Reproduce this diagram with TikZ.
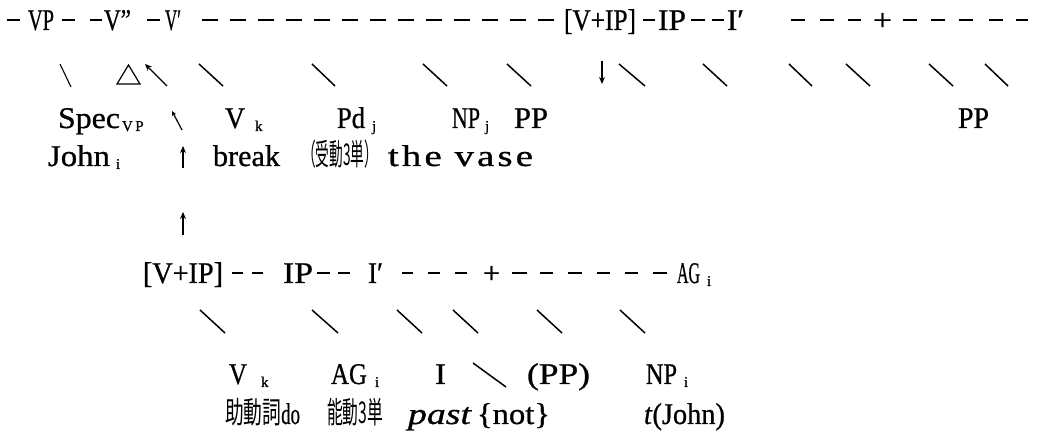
\documentclass[tikz,border=0pt]{standalone}
\usepackage{graphicx}
\usepackage{fontspec}
\setmainfont{Liberation Serif}[FakeBold=0.8]
\newfontfamily\jafont{Noto Sans CJK JP}
\usetikzlibrary{arrows.meta}
% squeeze or stretch a word to a given width, height unchanged
\newcommand\fitto[2]{\resizebox{#1pt}{\height}{#2}}
% small lowered index
\newcommand\idx[1]{\raisebox{-3pt}{\fontsize{15}{15}\selectfont #1}}
\begin{document}
\begin{tikzpicture}[x=1pt,y=-1pt,
  lbl/.style={anchor=base west,inner sep=0pt,outer sep=0pt,font=\fontsize{30}{32}\selectfont},
  dashln/.style={line width=1.3pt},
  slant/.style={line width=1.5pt},
  arr/.style={line width=1.4pt,-{Stealth[length=7pt,width=6pt]}},
  smallarr/.style={line width=1.2pt,-{Stealth[length=5pt,width=4.5pt]}}]
\useasboundingbox (0,0) rectangle (1037,435);

% ---------- upper tree: top line ----------
\foreach \a/\b in {7/20,62/75,90/102,147/160,643/655,691/705,712/724,
                   791/805,820/834,848/861,903/917,931/945,959/973,989/1003,1016/1028}
  \draw[dashln] (\a,20) -- (\b,20);
\foreach \k in {0,...,12}
  \draw[dashln] ({202+28*\k},20) -- ({218+28*\k},20);
\node[lbl] (vp)   at (28,30)  {\fitto{26}{VP}};
\node[lbl] (vpp)  at (104,30) {\fitto{27}{V”}};
\node[lbl] (vbar) at (165,30) {\fitto{16}{V′}};
\node[lbl] (vip)  at (564,30) {\fitto{72}{[V+IP]}};
\node[lbl] (ip)   at (658,30) {\fitto{28}{IP}};
\node[lbl] (ibar) at (727,30) {\fitto{17}{I′}};
\node[lbl] (plus) at (873,30) {\fitto{19}{+}};

% ---------- upper tree: branches ----------
\draw[line width=1.1pt] (60,64) -- (71,87);
\draw[line width=1.2pt,line join=miter] (128.5,65) -- (140,84) -- (117,84) -- cycle;
\draw[arr] (167,86) -- (145,64);
\foreach \a/\b in {199/223,312/335,423/447,507/531,619/645,703/727,789/812,846/870,929/953,985/1008}
  \draw[slant] (\a,64) -- (\b,86);
\draw[arr] (602,61) -- (602,84);

% ---------- upper tree: daughters ----------
\node[lbl] (spec) at (58,128)  {\fitto{62}{Spec}\hspace{2pt}\idx{V\,P}};
\draw[smallarr] (182,130) -- (172,111);
\node[lbl] (vk)   at (225,128) {\fitto{20}{V}\hspace{10pt}\idx{k}};
\node[lbl] (pd)   at (337,128) {\fitto{28}{Pd}\hspace{7pt}\idx{j}};
\node[lbl] (npj)  at (452,128) {\fitto{28}{NP}\hspace{5pt}\idx{j}};
\node[lbl] (pp1)  at (514,128) {\fitto{34}{PP}};
\node[lbl] (pp2)  at (958,128) {\fitto{31}{PP}};

\node[lbl] (john)  at (48,166)  {\fitto{62}{John}\hspace{6pt}\idx{i}};
\draw[arr] (183,168) -- (183,146);
\node[lbl] (brk)   at (213,166) {\fitto{67}{break}};
\node[lbl] (ukemi) at (302,166) {\fitto{76}{\jafont （受動3単）}};
\node[lbl] (vase)  at (388,166) {\fitto{145}{\addfontfeature{LetterSpace=8}the vase}};

\draw[arr] (183,235) -- (183,212);

% ---------- lower tree: top line ----------
\foreach \a/\b in {232/243,252/263,317/330,338/350,402/413,428/440,455/467,
                   512/527,540/553,568/582,597/610,625/638,653/667}
  \draw[dashln] (\a,273) -- (\b,273);
\node[lbl] (vip2)  at (143,283) {\fitto{80}{[V+IP]}};
\node[lbl] (ip2)   at (283,283) {\fitto{30}{IP}};
\node[lbl] (ibar2) at (368,283) {\fitto{15}{I′}};
\node[lbl] (plus2) at (483,283) {\fitto{17}{+}};
\node[lbl] (ag)    at (677,283) {\fitto{23}{AG}\hspace{7pt}\idx{i}};

% ---------- lower tree: branches ----------
\foreach \a/\b in {200/225,312/338,397/422,453/478,537/562,620/645}
  \draw[slant] (\a,310) -- (\b,333);

% ---------- lower tree: daughters ----------
\node[lbl] (vk2)  at (229,384) {\fitto{18}{V}\hspace{14pt}\idx{k}};
\node[lbl] (ag2)  at (331,384) {\fitto{36}{AG}\hspace{8pt}\idx{i}};
\node[lbl] (infl) at (435,384) {\fitto{11}{I}};
\draw[slant] (473,363) -- (506,387);
\node[lbl] (pp3)  at (527,384) {\fitto{63}{(PP)}};
\node[lbl] (npi)  at (646,384) {\fitto{31}{NP}\hspace{7pt}\idx{i}};

\node[lbl] (aux)  at (225,424) {\fitto{75}{{\jafont 助動詞}do}};
\node[lbl] (act)  at (327,424) {\fitto{56}{\jafont 能動3単}};
\node[lbl] (past) at (408,424) {\fitto{63}{\itshape past}};
\node[lbl] (neg)  at (477,424) {\fitto{73}{\{not\}}};
\node[lbl] (tr)   at (644,424) {\fitto{81}{\textit{t}(John)}};
\end{tikzpicture}
\end{document}
